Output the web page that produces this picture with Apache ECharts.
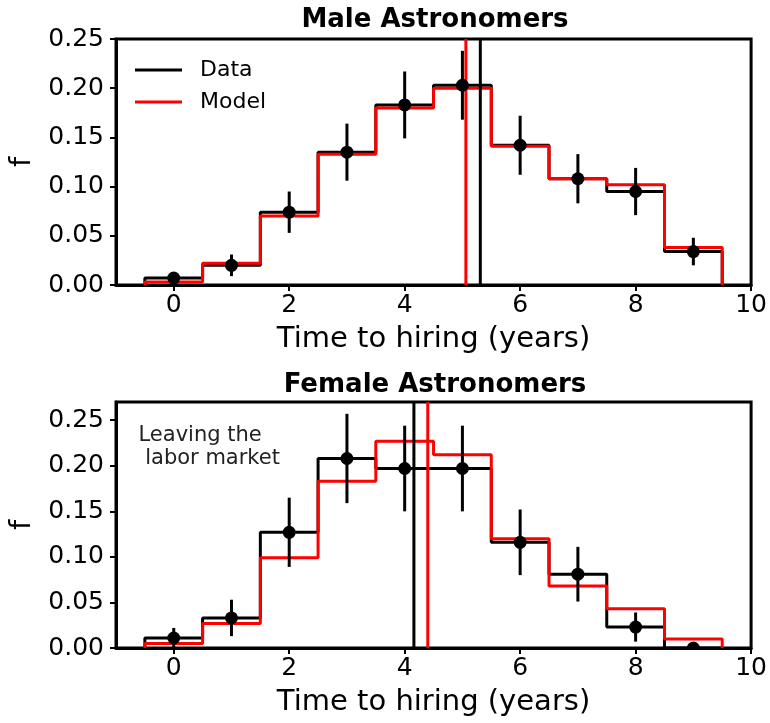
<!DOCTYPE html>
<html>
<head>
<meta charset="utf-8">
<script src="https://cdn.jsdelivr.net/npm/echarts@6/dist/echarts.min.js"></script>
<style>html,body{margin:0;padding:0;background:#fff;}#c{width:770px;height:723px;}</style>
</head>
<body>
<div id="c"></div>
<script>
// ---- data ----
const bins = [0, 1, 2, 3, 4, 5, 6, 7, 8, 9];
const maleData  = [0.007, 0.020, 0.074, 0.135, 0.183, 0.203, 0.142, 0.108, 0.095, 0.034];
const maleModel = [0.003, 0.022, 0.070, 0.133, 0.180, 0.200, 0.141, 0.108, 0.102, 0.038];
const maleErr   = [0.006, 0.011, 0.021, 0.029, 0.034, 0.035, 0.030, 0.025, 0.024, 0.014];
const maleMedianData = 5.31;
const maleMedianModel = 5.06;

const femaleData  = [0.011, 0.033, 0.127, 0.208, 0.197, 0.197, 0.116, 0.081, 0.023, 0.000];
const femaleModel = [0.005, 0.027, 0.099, 0.183, 0.227, 0.212, 0.120, 0.068, 0.043, 0.010];
const femaleErr   = [0.011, 0.020, 0.038, 0.049, 0.047, 0.047, 0.036, 0.030, 0.016, 0.000];
const femaleMedianData = 4.16;
const femaleMedianModel = 4.40;

const xTicks = [0, 2, 4, 6, 8, 10];
const yTicks = [0, 0.05, 0.10, 0.15, 0.20, 0.25];
const titles = ['Male Astronomers', 'Female Astronomers'];
const xName = 'Time to hiring (years)';
const yName = 'f';
const annotationText = 'Leaving the\n labor market';
const annotationPos = [-0.61, 0.246];
const yMax = [0.25, 0.27];

// ---- helpers ----
function stepPoints(vals) {
  const pts = [[bins[0] - 0.5, 0]];
  vals.forEach((v, i) => { pts.push([bins[i] - 0.5, v]); pts.push([bins[i] + 0.5, v]); });
  pts.push([bins[bins.length - 1] + 0.5, 0]);
  return pts;
}
function errPoints(vals, errs) { return bins.map((b, i) => [b, vals[i], errs[i]]); }

const FONT = 'DejaVu Sans';
const chart = echarts.init(document.getElementById('c'), null, {renderer: 'canvas'});

function xAxisFor(g) {
  return {
    type: 'value', gridIndex: g, min: -1, max: 10,
    axisLine: {show: true, onZero: false, lineStyle: {color: '#000', width: 3}},
    axisTick: {show: true, customValues: xTicks, length: 6, lineStyle: {color: '#000', width: 2}},
    axisLabel: {customValues: xTicks, fontSize: 25, color: '#000', margin: 8, fontFamily: FONT},
    splitLine: {show: false},
    name: xName, nameLocation: 'middle', nameGap: 40,
    nameTextStyle: {fontSize: 29, color: '#000', fontFamily: FONT}
  };
}
function yAxisFor(g) {
  return {
    type: 'value', gridIndex: g, min: 0, max: yMax[g],
    axisLine: {show: true, onZero: false, lineStyle: {color: '#000', width: 3}},
    axisTick: {show: true, customValues: yTicks, length: 6, lineStyle: {color: '#000', width: 2}},
    axisLabel: {customValues: yTicks, fontSize: 25, color: '#000', margin: 12, fontFamily: FONT,
      formatter: v => v.toFixed(2)},
    splitLine: {show: false},
    name: yName, nameLocation: 'middle', nameGap: 77, nameRotate: 90,
    nameTextStyle: {fontSize: 29, color: '#000', fontFamily: FONT}
  };
}
function histSeries(name, vals, color, g) {
  return {type: 'line', name, xAxisIndex: g, yAxisIndex: g, data: stepPoints(vals),
    symbol: 'none', lineStyle: {color, width: 3}, itemStyle: {color}, z: 2, silent: true};
}
function vline(name, x, color, g) {
  return {type: 'line', name, xAxisIndex: g, yAxisIndex: g, data: [[x, 0], [x, yMax[g]]],
    symbol: 'none', lineStyle: {color, width: 3}, itemStyle: {color}, z: 3, silent: true};
}
function errSeries(vals, errs, g) {
  return {
    type: 'custom', name: 'Data', xAxisIndex: g, yAxisIndex: g, clip: true, z: 4, silent: true,
    data: errPoints(vals, errs), encode: {x: 0, y: 1},
    itemStyle: {color: '#000'},
    renderItem: function (params, api) {
      const x = api.value(0), y = api.value(1), e = api.value(2);
      const p0 = api.coord([x, y - e]), p1 = api.coord([x, y + e]), pc = api.coord([x, y]);
      return {type: 'group', children: [
        {type: 'line', shape: {x1: p0[0], y1: p0[1], x2: p1[0], y2: p1[1]}, style: {stroke: '#000', lineWidth: 3}},
        {type: 'circle', shape: {cx: pc[0], cy: pc[1], r: 6.5}, style: {fill: '#000'}}
      ]};
    }
  };
}

const option = {
  animation: false,
  textStyle: {fontFamily: FONT},
  title: [
    {text: titles[0], left: 435, textAlign: 'center', top: 7, padding: 0,
      textStyle: {fontSize: 26, fontWeight: 'bold', color: '#000', fontFamily: FONT}},
    {text: titles[1], left: 435, textAlign: 'center', top: 372, padding: 0,
      textStyle: {fontSize: 26, fontWeight: 'bold', color: '#000', fontFamily: FONT}}
  ],
  legend: {
    data: ['Data', 'Model'], orient: 'vertical', left: 135, top: 59,
    icon: 'rect', itemWidth: 47, itemHeight: 3, itemGap: 10, padding: 0,
    textStyle: {fontSize: 22, color: '#000', fontFamily: FONT, padding: [0, 0, 0, 13]},
    selectedMode: false
  },
  grid: [
    {left: 116, top: 39, width: 638, height: 246, show: true, borderColor: '#000', borderWidth: 3},
    {left: 116, top: 402, width: 638, height: 246, show: true, borderColor: '#000', borderWidth: 3}
  ],
  xAxis: [xAxisFor(0), xAxisFor(1)],
  yAxis: [yAxisFor(0), yAxisFor(1)],
  series: [
    histSeries('Data', maleData, '#000', 0),
    histSeries('Model', maleModel, '#ff0000', 0),
    vline('Model', maleMedianModel, '#ff0000', 0),
    vline('Data', maleMedianData, '#000', 0),
    errSeries(maleData, maleErr, 0),
    histSeries('Data', femaleData, '#000', 1),
    histSeries('Model', femaleModel, '#ff0000', 1),
    vline('Data', femaleMedianData, '#000', 1),
    vline('Model', femaleMedianModel, '#ff0000', 1),
    errSeries(femaleData, femaleErr, 1),
    {
      type: 'custom', name: 'annotation', xAxisIndex: 1, yAxisIndex: 1, silent: true, z: 5,
      data: [annotationPos], encode: {x: 0, y: 1},
      renderItem: function (params, api) {
        const p = api.coord([api.value(0), api.value(1)]);
        return {type: 'text', x: p[0], y: p[1], style: {
          text: annotationText, fill: '#222', font: '21px "DejaVu Sans"',
          align: 'left', verticalAlign: 'top', lineHeight: 23
        }};
      }
    }
  ]
};
chart.setOption(option);
</script>
</body>
</html>
